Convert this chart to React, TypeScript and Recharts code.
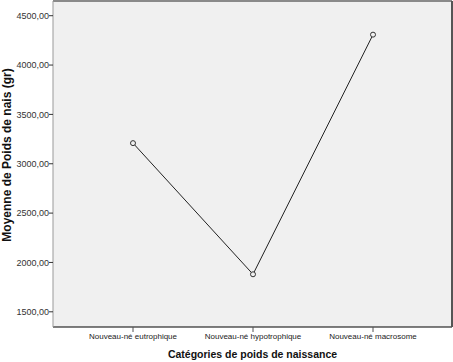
import { LineChart, Line, XAxis, YAxis, CartesianGrid, Label } from 'recharts'

const categories = ['Nouveau-né eutrophique', 'Nouveau-né hypotrophique', 'Nouveau-né macrosome']
const meanWeights = [3209, 1880, 4308]
const yTicks = [1500, 2000, 2500, 3000, 3500, 4000, 4500]
const yDomain = [1346, 4649]

const data = categories.map((cat, i) => ({ cat, value: meanWeights[i] }))

const font = '"Liberation Sans", Arial, sans-serif'
const fmt = (v: number) => v.toFixed(2).replace('.', ',')

export default function App() {
  return (
    <div style={{ position: 'absolute', left: 0, top: 0, background: '#fff' }}>
      <LineChart
        width={453}
        height={362}
        data={data}
        margin={{ top: 0, right: 0, bottom: 0, left: 0 }}
        style={{ fontFamily: font }}
      >
        <CartesianGrid xAxisId="b" yAxisId="l" horizontal={false} vertical={false} fill="#f0f0f0" />
        <XAxis
          xAxisId="top"
          orientation="top"
          dataKey="cat"
          height={1}
          tick={false}
          tickLine={false}
          axisLine={{ stroke: '#8a8a8a', strokeWidth: 2 }}
          padding={{ left: 80, right: 79 }}
        />
        <XAxis
          xAxisId="b"
          dataKey="cat"
          height={35}
          padding={{ left: 80, right: 79 }}
          tickSize={5}
          tickMargin={1}
          tickLine={{ stroke: '#555' }}
          axisLine={{ stroke: '#000' }}
          tick={{ fontSize: 8, fill: '#222' }}
          interval={0}
        >
          <Label
            value="Catégories de poids de naissance"
            position="insideBottom"
            offset={4}
            style={{ fontSize: 10.5, fontWeight: 'bold', fill: '#111' }}
          />
        </XAxis>
        <YAxis
          yAxisId="l"
          width={53}
          type="number"
          domain={yDomain}
          ticks={yTicks}
          allowDataOverflow
          tickFormatter={fmt}
          tickSize={4}
          tickMargin={0}
          tickLine={{ stroke: '#333' }}
          axisLine={{ stroke: '#999' }}
          tick={{ fontSize: 9, fill: '#333' }}
        >
          <Label
            content={() => (
              <text
                x={11}
                y={155}
                transform="rotate(-90 11 155)"
                textAnchor="middle"
                style={{ fontSize: 12, fontWeight: 'bold', fill: '#111', fontFamily: font }}
              >
                Moyenne de Poids de nais (gr)
              </text>
            )}
          />
        </YAxis>
        <YAxis
          yAxisId="r"
          orientation="right"
          width={1}
          type="number"
          domain={yDomain}
          allowDataOverflow
          tick={false}
          tickLine={false}
          axisLine={{ stroke: '#555', strokeWidth: 2 }}
        />
        <Line
          xAxisId="b"
          yAxisId="l"
          dataKey="value"
          stroke="#222"
          strokeWidth={1}
          dot={{ r: 2.5, stroke: '#333', strokeWidth: 1, fill: '#f0f0f0' }}
          activeDot={false}
          isAnimationActive={false}
        />
      </LineChart>
    </div>
  )
}
